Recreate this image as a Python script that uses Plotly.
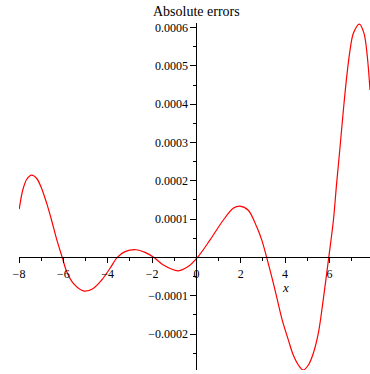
import plotly.graph_objects as go

# Data
x_vals = [-7.99, -7.83, -7.65, -7.43, -7.20, -6.98, -6.75, -6.53, -6.30, -6.05,
          -5.85, -5.55, -5.07, -4.65, -4.27, -3.90, -3.57, -3.22, -2.72, -2.32,
          -1.91, -1.49, -0.82, -0.37, 0.05, 0.61, 1.21, 1.66, 1.97, 2.34,
          2.72, 2.95, 3.17, 3.40, 3.62, 3.85, 4.15, 4.37, 4.60, 4.82,
          5.05, 5.27, 5.50, 5.72, 5.97, 6.18, 6.32, 6.48, 6.63, 6.78,
          6.93, 7.08, 7.35, 7.56, 7.71, 7.83]
err_vals = [1.26e-4, 1.76e-4, 2.04e-4, 2.15e-4, 2.06e-4, 1.80e-4, 1.41e-4, 0.97e-4, 0.47e-4, 0.0,
            -0.37e-4, -0.68e-4, -0.88e-4, -0.81e-4, -0.59e-4, -0.29e-4, 0.0, 0.15e-4, 0.20e-4, 0.13e-4,
            0.0, -0.20e-4, -0.35e-4, -0.24e-4, 0.0, 0.45e-4, 0.97e-4, 1.28e-4, 1.34e-4, 1.23e-4,
            0.80e-4, 0.45e-4, 0.0, -0.51e-4, -1.03e-4, -1.59e-4, -2.16e-4, -2.55e-4, -2.81e-4, -2.94e-4,
            -2.81e-4, -2.51e-4, -1.98e-4, -1.11e-4, 0.0, 0.97e-4, 1.90e-4, 2.89e-4, 3.85e-4, 4.72e-4,
            5.41e-4, 5.85e-4, 6.09e-4, 5.85e-4, 5.24e-4, 4.37e-4]

x_ticks = [-8, -6, -4, -2, 0, 2, 4, 6]
x_ticktext = ["\u22128", "\u22126", "\u22124", "\u22122", "0", "2", "4", "6"]
y_ticks = [-0.0002, -0.0001, 0.0001, 0.0002, 0.0003, 0.0004, 0.0005, 0.0006]
y_ticktext = ["\u22120.0002", "\u22120.0001", "0.0001", "0.0002", "0.0003", "0.0004", "0.0005", "0.0006"]

title_text = "Absolute errors"
x_label = "x"

x_range = [-8, 7.83]
y_range = [-0.000294, 0.000612]

FONT = "Liberation Serif, Times New Roman, DejaVu Serif, serif"

fig = go.Figure()
fig.add_trace(go.Scatter(
    x=x_vals, y=err_vals, mode="lines",
    line=dict(color="#ff0000", width=1.2, shape="spline", smoothing=0.9),
    hoverinfo="skip", showlegend=False,
))

x_pos = (0 - x_range[0]) / (x_range[1] - x_range[0])
y_pos = (0 - y_range[0]) / (y_range[1] - y_range[0])

fig.update_layout(
    width=370, height=374,
    margin=dict(l=19, r=0, t=23, b=4, pad=0),
    paper_bgcolor="white", plot_bgcolor="white",
    font=dict(family=FONT, size=12, color="black"),
    showlegend=False,
    xaxis=dict(
        range=x_range, anchor="free", position=y_pos,
        showgrid=False, zeroline=False, showline=True,
        linecolor="black", linewidth=1,
        ticks="outside", ticklen=5, tickwidth=1, tickcolor="black",
        tickmode="array", tickvals=x_ticks, ticktext=x_ticktext,
        tickfont=dict(family=FONT, size=12, color="black"),
        minor=dict(ticks="outside", ticklen=3, tickwidth=1, tickcolor="black",
                   tickmode="linear", tick0=0, dtick=1, showgrid=False),
        automargin=False,
    ),
    yaxis=dict(
        range=y_range, anchor="free", position=x_pos,
        showgrid=False, zeroline=False, showline=True,
        linecolor="black", linewidth=1,
        ticks="outside", ticklen=6, tickwidth=1, tickcolor="black",
        tickmode="array", tickvals=y_ticks, ticktext=y_ticktext,
        tickfont=dict(family=FONT, size=12, color="black"),
        minor=dict(ticks="outside", ticklen=3, tickwidth=1, tickcolor="black",
                   tickmode="linear", tick0=0, dtick=0.00005, showgrid=False),
        automargin=False,
    ),
    annotations=[
        dict(text=title_text, xref="x", x=0, yref="paper", y=1, yanchor="bottom",
             yshift=2, showarrow=False, font=dict(family=FONT, size=14, color="black")),
        dict(text="<i>" + x_label + "</i>", xref="x", x=4, yref="y", y=-0.0000775,
             showarrow=False, font=dict(family=FONT, size=13, color="black")),
    ],
)

fig.write_html("out.html")
